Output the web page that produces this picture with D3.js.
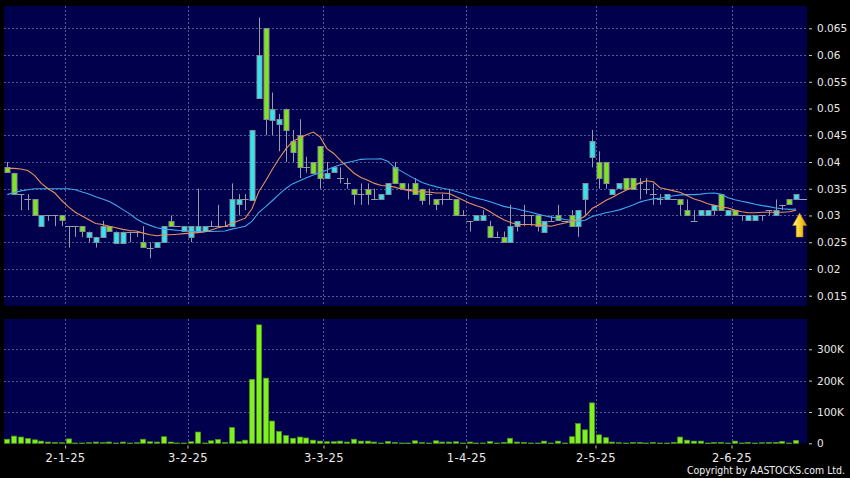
<!DOCTYPE html>
<html><head><meta charset="utf-8">
<script src="https://cdn.jsdelivr.net/npm/d3@7/dist/d3.min.js"></script>
<style>html,body{margin:0;padding:0;background:#000;}svg{display:block}</style>
</head><body><svg id="c" width="850" height="478"></svg>
<script>
// ---- data ----
const opens  = [.039,.038,.034,.033,.033,.028,.030,.030,.030,.028,.028,.028,.026,.025,.026,.028,.025,.025,.027,.027,
 .025,.024,.024,.025,.029,.028,.027,.026,.027,.027,.028,.028,.028,.028,.032,.033,.033,.052,.065,.048,
 .047,.050,.044,.045,.039,.040,.043,.037,.038,.037,.036,.035,.034,.035,.033,.033,.034,.039,.036,.035,
 .036,.035,.034,.033,.033,.033,.033,.030,.029,.029,.029,.028,.026,.026,.025,.028,.030,.030,.030,.027,
 .029,.030,.029,.030,.028,.033,.041,.040,.040,.034,.035,.037,.037,.036,.035,.034,.033,.033,.033,.033,
 .031,.029,.030,.030,.031,.034,.030,.031,.030,.029,.029,.030,.031,.030,.032,.033,.033];
const highs  = [.040,.038,.034,.034,.033,.030,.030,.030,.030,.028,.028,.028,.027,.026,.029,.028,.027,.027,.027,.027,
 .028,.025,.025,.028,.030,.028,.028,.028,.035,.028,.029,.032,.029,.036,.034,.034,.046,.067,.065,.053,
 .049,.050,.046,.048,.041,.040,.043,.040,.039,.039,.037,.035,.036,.036,.035,.034,.036,.040,.036,.036,
 .037,.035,.035,.033,.034,.035,.033,.031,.029,.030,.031,.029,.027,.027,.032,.029,.032,.030,.030,.029,
 .030,.032,.029,.031,.031,.036,.046,.042,.040,.035,.036,.037,.037,.037,.037,.036,.034,.034,.033,.033,
 .033,.031,.031,.031,.032,.034,.031,.031,.030,.030,.030,.030,.031,.033,.032,.033,.034];
const lows   = [.038,.034,.031,.031,.030,.028,.029,.028,.028,.024,.026,.026,.025,.024,.026,.027,.025,.025,.025,.026,
 .024,.022,.024,.025,.028,.028,.027,.025,.027,.027,.028,.028,.028,.028,.030,.031,.033,.052,.045,.045,
 .042,.040,.040,.037,.038,.038,.035,.037,.038,.036,.035,.032,.032,.032,.033,.033,.034,.036,.035,.033,
 .034,.032,.032,.031,.032,.033,.030,.030,.027,.029,.029,.026,.026,.025,.025,.027,.028,.028,.027,.027,
 .029,.029,.029,.028,.026,.030,.039,.035,.035,.034,.035,.035,.035,.033,.034,.032,.032,.033,.033,.030,
 .030,.029,.030,.030,.030,.031,.030,.030,.029,.029,.029,.029,.030,.030,.031,.032,.033];
const closes = [.038,.034,.034,.033,.030,.030,.030,.030,.029,.028,.028,.027,.027,.026,.028,.027,.027,.027,.027,.027,
 .024,.024,.025,.028,.028,.028,.028,.028,.028,.028,.028,.028,.028,.033,.033,.033,.046,.060,.048,.050,
 .048,.046,.042,.039,.039,.038,.037,.038,.039,.037,.036,.034,.034,.034,.033,.034,.036,.036,.035,.035,
 .034,.033,.034,.032,.033,.033,.030,.030,.029,.030,.030,.026,.026,.025,.028,.029,.030,.030,.028,.029,
 .029,.029,.029,.028,.031,.036,.044,.037,.036,.035,.036,.035,.035,.036,.035,.034,.033,.034,.033,.032,
 .030,.029,.031,.031,.032,.031,.031,.030,.030,.030,.030,.030,.031,.031,.032,.032,.034];
// volume in thousands of shares
const volumes = [13,23,20,15,11,7,4,3,2,14,1,1,2,4,2,4,1,4,1,2,
 13,5,4,21,4,1,1,5,36,1,8,12,3,50,5,10,204,378,208,71,
 38,25,16,20,17,10,7,5,5,7,4,13,7,7,4,1,6,3,1,1,
 8,3,1,8,4,4,5,1,4,1,1,6,1,3,16,4,3,1,1,7,
 1,7,1,21,63,43,129,27,18,4,2,1,3,3,1,3,1,1,3,20,
 10,7,7,1,3,3,1,7,1,3,1,2,3,3,6,1,9];
// moving-average values at the start of the window (earlier closes are off-chart)
const ma10Head = [.0388,.0388,.0387,.0384,.0375,.0360,.0350,.0342,.0328];
const ma20Head = [.0339,.0343,.0346,.0348,.0350,.0350,.0350,.0350,.0350,.0350,.0348,.0344,.0340,.0335,.0331,.0326,.0319,.0311,.0303];
const monthStarts = [9,27,47,68,87,107];
const monthLabels = ["2-1-25","3-2-25","3-3-25","1-4-25","2-5-25","2-6-25"];
const priceTicks = [0.015,0.02,0.025,0.03,0.035,0.04,0.045,0.05,0.055,0.06,0.065];
const volumeTicks = [0,100,200,300];

// ---- chart ----
const svg = d3.select("#c");
const W = 850, H = 478;
const n = closes.length;
const PL = 4, PR = 807, PT = 6, PB = 306, VT = 319, VB = 443.5;
const NAVY = "#00004c", GRID = "#4f5a92", UP = "#33e4f0", DOWN = "#7ee422", GREY = "#9a9aa6";
const FONT = "DejaVu Sans, Verdana, sans-serif";

svg.append("rect").attr("width", W).attr("height", H).attr("fill", "#000");
svg.append("rect").attr("x", PL).attr("y", PT).attr("width", PR - PL).attr("height", PB - PT).attr("fill", NAVY);
svg.append("rect").attr("x", PL).attr("y", VT).attr("width", PR - PL).attr("height", VB - VT).attr("fill", NAVY);

const defs = svg.append("defs");
defs.append("clipPath").attr("id", "clipP").append("rect").attr("x", PL).attr("y", PT).attr("width", PR - PL).attr("height", PB - PT);
const grad = defs.append("linearGradient").attr("id", "arrowG").attr("x1", "0").attr("x2", "1").attr("y1", "0").attr("y2", "0");
grad.append("stop").attr("offset", "0").attr("stop-color", "#fff6a0");
grad.append("stop").attr("offset", "0.5").attr("stop-color", "#f8d030");
grad.append("stop").attr("offset", "1").attr("stop-color", "#d89a00");

const x = d3.scaleBand().domain(d3.range(n)).range([3.9, 3.9 + 6.8 * n]);
const cx = i => x(i) + x.bandwidth() / 2;
const y = d3.scaleLinear().domain([0.015, 0.065]).range([295.7, 28.3]);
const yv = d3.scaleLinear().domain([0, 300]).range([443.3, 349.3]);

// grid
const grid = svg.append("g").attr("stroke", GRID).attr("stroke-width", 1).attr("stroke-dasharray", "2,2");
grid.selectAll(".hp").data(priceTicks).join("line")
  .attr("x1", PL).attr("x2", PR).attr("y1", d => Math.round(y(d)) + 0.5).attr("y2", d => Math.round(y(d)) + 0.5);
grid.selectAll(".hv").data(volumeTicks.filter(d => d > 0)).join("line")
  .attr("x1", PL).attr("x2", PR).attr("y1", d => Math.round(yv(d)) + 0.5).attr("y2", d => Math.round(yv(d)) + 0.5);
grid.selectAll(".vp").data(monthStarts).join("line")
  .attr("x1", d => Math.round(x(d)) + 0.5).attr("x2", d => Math.round(x(d)) + 0.5).attr("y1", PT).attr("y2", PB);
grid.selectAll(".vv").data(monthStarts).join("line")
  .attr("x1", d => Math.round(x(d)) + 0.5).attr("x2", d => Math.round(x(d)) + 0.5).attr("y1", VT).attr("y2", VB);

// candles
const gc = svg.append("g").attr("clip-path", "url(#clipP)");
const idx = d3.range(n);
const px = i => Math.round(cx(i)) + 0.5;
gc.selectAll(".wick").data(idx).join("line")
  .attr("x1", px).attr("x2", px)
  .attr("y1", i => y(highs[i])).attr("y2", i => y(lows[i]))
  .attr("stroke", GREY).attr("stroke-width", 1);
gc.selectAll(".flat").data(idx.filter(i => opens[i] === closes[i])).join("line")
  .attr("x1", i => cx(i) - 3.4).attr("x2", i => cx(i) + 3.4)
  .attr("y1", i => Math.round(y(closes[i])) + 0.5).attr("y2", i => Math.round(y(closes[i])) + 0.5)
  .attr("stroke", GREY).attr("stroke-width", 1);
gc.selectAll(".body").data(idx.filter(i => opens[i] !== closes[i])).join("rect")
  .attr("x", i => Math.round(cx(i)) - 2)
  .attr("width", 5)
  .attr("y", i => Math.round(y(Math.max(opens[i], closes[i]))) + 0.5)
  .attr("height", i => Math.max(1, Math.round(Math.abs(y(opens[i]) - y(closes[i])))))
  .attr("fill", i => closes[i] > opens[i] ? UP : DOWN)
  .attr("stroke", "#8c8c96").attr("stroke-width", 1);

// moving averages
const sma = (period, head) => closes.map((c, i) => i < head.length ? head[i] : d3.mean(closes.slice(i - period + 1, i + 1)));
const ma10 = sma(10, ma10Head), ma20 = sma(20, ma20Head);
const line = d3.line().x((d, i) => cx(i)).y(d => y(d));
gc.append("path").attr("d", line(ma20)).attr("fill", "none").attr("stroke", "#3fa8ec").attr("stroke-width", 1.1);
gc.append("path").attr("d", line(ma10)).attr("fill", "none").attr("stroke", "#e8905c").attr("stroke-width", 1.1);

// last price marker line and arrow
gc.append("line").attr("x1", cx(n - 1) + 3).attr("x2", PR).attr("y1", Math.round(y(opens[n - 1])) + 0.5).attr("y2", Math.round(y(opens[n - 1])) + 0.5)
  .attr("stroke", "#a0a0b0").attr("stroke-width", 1);
svg.append("path")
  .attr("d", "M799.6,213 L806.6,225.5 L803,225.5 L803,237 L796.2,237 L796.2,225.5 L792.6,225.5 Z")
  .attr("fill", "url(#arrowG)").attr("stroke", "#b88400").attr("stroke-width", 0.6);

// volume bars
svg.append("g").selectAll("rect").data(idx).join("rect")
  .attr("x", i => Math.round(cx(i)) - 2.4)
  .attr("width", 5)
  .attr("y", i => yv(volumes[i]))
  .attr("height", i => Math.max(0.6, yv(0) - yv(volumes[i])))
  .attr("fill", "#80f020").attr("stroke", "#4f9a14").attr("stroke-width", 0.7);

// right axes
const fmtP = d => String(+d.toFixed(3));
const ay = svg.append("g").attr("transform", "translate(809,0)")
  .call(d3.axisRight(y).tickValues(priceTicks).tickSize(3).tickPadding(5).tickFormat(fmtP));
const av = svg.append("g").attr("transform", "translate(809,0)")
  .call(d3.axisRight(yv).tickValues(volumeTicks).tickSize(3).tickPadding(5).tickFormat(d => d === 0 ? "0" : d + "K"));
[ay, av].forEach(a => {
  a.select(".domain").remove();
  a.selectAll("line").attr("stroke", "#c8c8c8");
  a.selectAll("text").attr("fill", "#e8e8e8").attr("font-family", FONT).attr("font-size", "10.5px");
});

// bottom date axis
const ax = svg.append("g").attr("transform", `translate(0,${VB + 2})`)
  .call(d3.axisBottom(d3.scaleLinear().domain([0, W]).range([0, W]))
    .tickValues(monthStarts.map(i => x(i))).tickSize(3).tickPadding(5)
    .tickFormat((d, k) => monthLabels[k]));
ax.select(".domain").remove();
ax.selectAll("line").attr("stroke", "#c8c8c8");
ax.selectAll("text").attr("fill", "#ececec").attr("font-family", FONT).attr("font-size", "11.5px").attr("letter-spacing", "0.4px");

svg.append("text").attr("x", 845).attr("y", 474).attr("text-anchor", "end")
  .attr("fill", "#f0f0f0").attr("font-family", FONT).attr("font-size", "10px")
  .attr("textLength", 158).attr("lengthAdjust", "spacingAndGlyphs")
  .text("Copyright by AASTOCKS.com Ltd.");
</script></body></html>
